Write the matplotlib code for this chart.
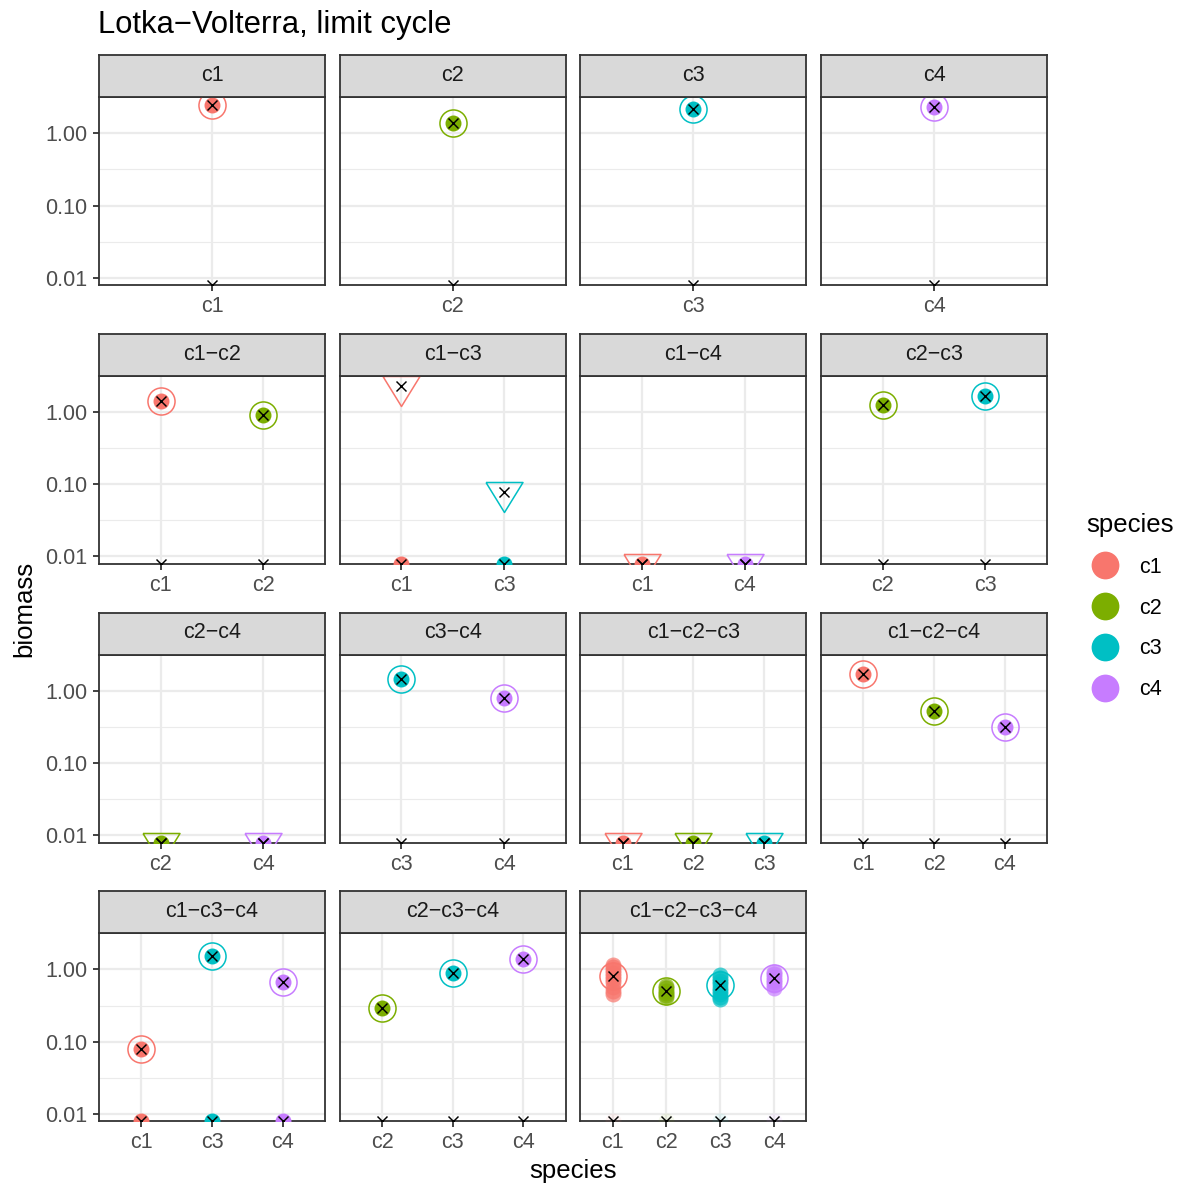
import numpy as np
import matplotlib
matplotlib.use("Agg")
import matplotlib.pyplot as plt
from matplotlib.lines import Line2D
from matplotlib.ticker import FixedLocator, NullLocator, NullFormatter

plt.rcParams['font.family'] = ['Liberation Sans', 'DejaVu Sans']

species = ["c1", "c2", "c3", "c4"]
species_colors = ["#F8766D", "#7CAE00", "#00BFC4", "#C77CFF"]

communities = ["c1", "c2", "c3", "c4",
               "c1-c2", "c1-c3", "c1-c4", "c2-c3",
               "c2-c4", "c3-c4", "c1-c2-c3", "c1-c2-c4",
               "c1-c3-c4", "c2-c3-c4", "c1-c2-c3-c4"]

# predicted equilibrium (open marker + cross), 0 means extinct
eq_biomass = [[2.45], [1.38], [2.15], [2.30],
              [1.42, 0.91], [2.30, 0.077], [0, 0], [1.25, 1.67],
              [0, 0], [1.47, 0.80], [0, 0, 0], [1.72, 0.53, 0.31],
              [0.080, 1.52, 0.68], [0.29, 0.88, 1.38], [0.80, 0.495, 0.60, 0.75]]
feasible = [True, True, True, True,
            True, False, False, True,
            False, True, False, True,
            True, True, True]

# simulated biomass (filled points)
sim_biomass = [[[2.45]], [[1.38]], [[2.15]], [[2.30]],
               [[1.42], [0.91]], [[0], [0]], [[0], [0]], [[1.25], [1.67]],
               [[0], [0]], [[1.47], [0.80]], [[0], [0], [0]], [[1.72], [0.53], [0.31]],
               [[0.080, 0], [1.52, 0], [0.68, 0]], [[0.29], [0.88], [1.38]],
               [[1.17, 1.08, 0.99, 0.90, 0.82, 0.74, 0.66, 0.58, 0.51, 0.45],
                [0.59, 0.55, 0.51, 0.47, 0.44, 0.41],
                [0.83, 0.76, 0.69, 0.62, 0.56, 0.50, 0.45, 0.42, 0.39],
                [0.93, 0.86, 0.79, 0.72, 0.66, 0.61, 0.56]]]
# the limit cycle runs start near zero
cycle_start = [0, 0, 0, 0]
# lower reference cross for every species
ref_biomass = 0

W, H = 1184, 1186
YLO, YHI = 10 ** -2.105, 10 ** 0.499
col_left = [99, 339.7, 580.4, 821.1]
row_top = [97.3, 376, 654.7, 933.4]
PW, PH, SH = 226, 188, 42
EDGE = "#333333"
GRID = "#EBEBEB"
FS_TICK = 15.5
FS_AXIS = 18.5

fig = plt.figure(figsize=(W / 100, H / 100), dpi=100)


def px_axes(left, top, width, height):
    return fig.add_axes([left / W, 1 - (top + height) / H, width / W, height / H])


tri = [(-18.5, 10), (18.5, 10), (0, -20), (-18.5, 10)]

for i, name in enumerate(communities):
    r, c = divmod(i, 4)
    ax = px_axes(col_left[c], row_top[r], PW, PH)
    members = name.split("-")
    xs = np.arange(1, len(members) + 1)

    ax.set_yscale("log")
    ax.set_ylim(YLO, YHI)
    ax.set_xlim(0.4, len(members) + 0.6)
    ax.set_xticks(xs)
    ax.set_xticklabels(members)
    ax.xaxis.set_minor_locator(NullLocator())
    ax.set_yticks([0.01, 0.1, 1.0])
    ax.set_yticklabels(["0.01", "0.10", "1.00"])
    ax.yaxis.set_minor_locator(FixedLocator([10 ** -1.5, 10 ** -0.5]))
    ax.yaxis.set_minor_formatter(NullFormatter())
    ax.tick_params(which="minor", length=0)
    ax.tick_params(which="major", length=4.3, width=1.3, color=EDGE,
                   labelsize=FS_TICK, labelcolor="#4D4D4D", pad=3.5)
    ax.tick_params(axis="y", pad=4)
    if c != 0:
        ax.tick_params(axis="y", left=False, labelleft=False)
    ax.grid(which="major", color=GRID, lw=1.6)
    ax.grid(which="minor", color=GRID, lw=0.8)
    ax.set_axisbelow(True)
    for s in ax.spines.values():
        s.set_color(EDGE)
        s.set_linewidth(1.3)

    for j, sp in enumerate(members):
        col = species_colors[species.index(sp)]
        vals = np.array(sim_biomass[i][j], dtype=float)
        yv = np.where(vals > 0, vals, YLO)
        a = 0.7 if len(vals) > 3 else 1.0
        ax.plot(np.full(len(yv), xs[j]), yv, "o", ms=11.5, mew=0, color=col,
                alpha=a, zorder=3)
        if i == len(communities) - 1:
            ax.plot(xs[j], cycle_start[j] if cycle_start[j] > 0 else YLO, "o",
                    ms=11.5, mew=0, color=col, alpha=0.08, zorder=3)

        e = eq_biomass[i][j]
        ye = e if e > 0 else YLO
        if feasible[i]:
            ax.plot(xs[j], ye, "o", ms=19.5, mfc="none", mec=col, mew=1.1, zorder=4)
        else:
            ax.plot(xs[j], ye, marker=tri, ls="", ms=28.8, mfc="none", mec=col,
                    mew=1.1, zorder=4)
        ax.plot(xs[j], ye, "x", ms=6.5, mew=1.05, color="black", zorder=5)
        yr = ref_biomass if ref_biomass > 0 else YLO
        ax.plot(xs[j], yr, "x", ms=6.5, mew=1.05, color="black", zorder=5)

    sax = px_axes(col_left[c], row_top[r] - SH, PW, SH)
    sax.set_facecolor("#D9D9D9")
    sax.set_xticks([])
    sax.set_yticks([])
    for s in sax.spines.values():
        s.set_color(EDGE)
        s.set_linewidth(1.3)
    sax.text(0.5, 0.52, name.replace("-", "\u2212"), ha="center", va="center",
             fontsize=FS_TICK, color="#1A1A1A", transform=sax.transAxes)

fig.text(98 / W, 1 - 25 / H, "Lotka\u2212Volterra, limit cycle", ha="left",
         va="center", fontsize=22.3, color="black")
fig.text(573 / W, 1 - 1171 / H, "species", ha="center", va="center", fontsize=FS_AXIS)
fig.text(24 / W, 1 - 609 / H, "biomass", ha="center", va="center", fontsize=FS_AXIS,
         rotation=90)

handles = [Line2D([], [], marker="o", ls="", ms=20, mew=0, color=col)
           for col in species_colors]
leg = fig.legend(handles, species, title="species", loc="upper left",
                 bbox_to_anchor=(1071 / W, 1 - 498 / H), frameon=False,
                 fontsize=FS_TICK, title_fontsize=FS_AXIS, labelspacing=0.92,
                 handletextpad=0.7, handlelength=1.75, borderaxespad=0.3)
leg._legend_box.align = "left"

fig.savefig("out.png", dpi=100)
